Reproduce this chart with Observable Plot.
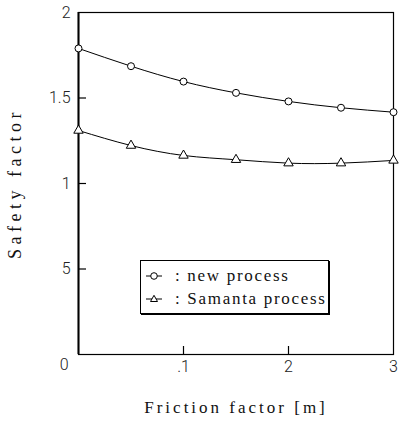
<!DOCTYPE html>
<html><head><meta charset="utf-8">
<script src="https://cdn.jsdelivr.net/npm/d3@7"></script>
<script src="https://cdn.jsdelivr.net/npm/@observablehq/plot@0.6"></script>
<style>
body{margin:0;background:#fff;}
#wrap{position:relative;width:401px;height:428px;overflow:hidden;}
.legend{position:absolute;left:140px;top:260px;width:187px;height:52px;border:1px solid #000;box-shadow:1px 1px 0 #000;background:#fff;font-family:"Liberation Serif",serif;font-size:17px;letter-spacing:1.7px;color:#111;}
.row{position:absolute;left:4px;height:20px;display:flex;align-items:center;white-space:nowrap;}
.row svg{margin-right:12px;}
</style></head>
<body><div id="wrap"></div>
<script>
// Data
const frictionFactor = [0, 0.05, 0.1, 0.15, 0.2, 0.25, 0.3];
const newProcess = [1.79, 1.686, 1.596, 1.530, 1.480, 1.443, 1.417];
const samantaProcess = [1.31, 1.222, 1.164, 1.139, 1.119, 1.119, 1.135];
const seriesNames = ["new process", "Samanta process"];
const xTicks = [0.1, 0.2, 0.3];
const xTickLabels = [".1", "2", "3"];
const yTicks = [0.5, 1, 1.5, 2];
const yTickLabels = ["5", "1", "1.5", "2"];
const originLabel = "0";
const xTitle = "Friction factor [m]";
const yTitle = "Safety factor";

const rowsNew = frictionFactor.map((x, i) => ({x, y: newProcess[i]}));
const rowsSam = frictionFactor.map((x, i) => ({x, y: samantaProcess[i]}));

const W = 401, H = 428, mT = 12, mL = 78, mR = 8, mB = 74;
const xDomain = [0, 0.3], yDomain = [0, 2];
const frameW = W - mL - mR, frameH = H - mT - mB, tickLen = 8;
const tickDX = (xDomain[1] - xDomain[0]) * tickLen / frameW;
const tickDY = (yDomain[1] - yDomain[0]) * tickLen / frameH;
const tickFont = {fontFamily: "Roboto", fontWeight: 300, fontSize: 16};
const chart = Plot.plot({
  width: W, height: H,
  marginTop: mT, marginLeft: mL, marginRight: mR, marginBottom: mB,
  x: {domain: xDomain},
  y: {domain: yDomain},
  style: {background: "#fff", color: "#000", fontFamily: "Roboto", fontSize: "16px"},
  marks: [
    Plot.axisY(yTicks, {label: null, tickSize: 0, tickPadding: 8, tickFormat: (d) => yTickLabels[yTicks.indexOf(d)], ...tickFont, fill: "#222"}),
    Plot.axisY([0], {label: null, tickSize: 0, tickPadding: 10, dy: 10, tickFormat: () => originLabel, ...tickFont, fill: "#222"}),
    Plot.axisX(xTicks, {label: null, tickSize: 0, tickPadding: 6, tickFormat: (d) => xTickLabels[xTicks.indexOf(d)], ...tickFont, fill: "#222"}),
    Plot.frame({stroke: "#000", strokeWidth: 1.2}),
    Plot.ruleX([0], {stroke: "#000", strokeWidth: 2}),
    Plot.ruleY(yTicks.slice(0, 3), {y: d => d, x1: xDomain[0], x2: xDomain[0] + tickDX, stroke: "#000", strokeWidth: 1.2}),
    Plot.ruleX(xTicks.slice(0, 2), {x: d => d, y1: yDomain[0], y2: yDomain[0] + tickDY, stroke: "#000", strokeWidth: 1.2}),
    Plot.line(rowsNew, {x: "x", y: "y", curve: "natural", stroke: "#000", strokeWidth: 1}),
    Plot.line(rowsSam, {x: "x", y: "y", curve: "natural", stroke: "#000", strokeWidth: 1}),
    Plot.dot(rowsNew, {x: "x", y: "y", symbol: "circle", r: 3.5, fill: "#fff", stroke: "#000", strokeWidth: 1}),
    Plot.dot(rowsSam, {x: "x", y: "y", symbol: "triangle", r: 3.5, fill: "#fff", stroke: "#000", strokeWidth: 1}),
    Plot.text([xTitle], {text: d => d, frameAnchor: "bottom", textAnchor: "middle", dy: 58, fontFamily: "Liberation Serif", fontSize: 17, fill: "#111"}),
    Plot.text([yTitle], {text: d => d, frameAnchor: "left", textAnchor: "middle", dx: -63, rotate: -90, fontFamily: "Liberation Serif", fontSize: 18, fill: "#111"})
  ]
});
d3.select(chart).selectAll("text").filter(function() { return this.textContent === xTitle; }).style("letter-spacing", "3px");
d3.select(chart).selectAll("text").filter(function() { return this.textContent === yTitle; }).style("letter-spacing", "4.5px");
const wrap = document.getElementById("wrap");
wrap.appendChild(chart);

// Legend
const legend = document.createElement("div");
legend.className = "legend";
const symSvg = (kind) => {
  const mark = kind === "circle"
    ? '<circle cx="9" cy="6" r="3.3" fill="#fff" stroke="#000"/>'
    : '<path d="M9,2.3 L12.5,8.5 L5.5,8.5 Z" fill="#fff" stroke="#000"/>';
  return `<svg width="18" height="12"><line x1="1" x2="17" y1="6" y2="6" stroke="#000"/>${mark}</svg>`;
};
[["circle", seriesNames[0], 5], ["triangle", seriesNames[1], 28]].forEach(([k, name, top]) => {
  const r = document.createElement("div");
  r.className = "row";
  r.style.top = top + "px";
  r.innerHTML = symSvg(k) + "<span>: " + name + "</span>";
  legend.appendChild(r);
});
wrap.appendChild(legend);
</script>
</body></html>
